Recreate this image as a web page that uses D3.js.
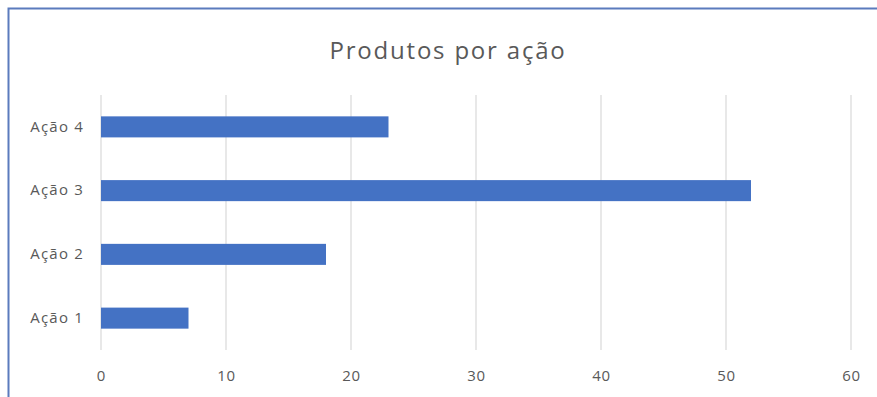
<!DOCTYPE html>
<html>
<head>
<meta charset="utf-8">
<script src="https://cdn.jsdelivr.net/npm/d3@7"></script>
<style>
  body { margin: 0; background: #fff; }
  text { font-family: "Open Sans", "Noto Sans", sans-serif; }
</style>
</head>
<body>
<div id="chart"></div>
<script>
// data
var categories = ["Ação 1", "Ação 2", "Ação 3", "Ação 4"];
var values = [7, 18, 52, 23];
var xTicks = [0, 10, 20, 30, 40, 50, 60];
var chartTitle = "Produtos por ação";

var width = 877, height = 397;
var margin = {top: 95, right: 26, bottom: 47, left: 101};

var svg = d3.select("#chart").append("svg")
    .attr("width", width)
    .attr("height", height);

// chart frame (only top/left edges visible in the crop)
svg.append("rect")
    .attr("x", 8.5).attr("y", 8.5)
    .attr("width", width + 20).attr("height", height + 20)
    .attr("fill", "#fff")
    .attr("stroke", "#5b7bbd")
    .attr("stroke-width", 2);

svg.append("text")
    .attr("x", 448)
    .attr("y", 59)
    .attr("text-anchor", "middle")
    .attr("font-size", "24px")
    .attr("letter-spacing", "1.8px")
    .attr("fill", "#595959")
    .text(chartTitle);

var x = d3.scaleLinear()
    .domain([0, 60])
    .range([margin.left, width - margin.right]);

var y = d3.scaleBand()
    .domain(categories.slice().reverse())
    .range([margin.top, height - margin.bottom])
    .paddingInner(0.67)
    .paddingOuter(0.335);

// gridlines
svg.append("g")
    .selectAll("line")
    .data(xTicks)
    .enter()
    .append("line")
    .attr("x1", d => x(d)).attr("x2", d => x(d))
    .attr("y1", margin.top).attr("y2", height - margin.bottom)
    .attr("stroke", "#d9d9d9")
    .attr("stroke-width", 1.2);

// x axis labels
var xAxis = svg.append("g")
    .attr("transform", "translate(0," + (height - margin.bottom) + ")")
    .call(d3.axisBottom(x).tickValues(xTicks).tickSize(0).tickPadding(20));
xAxis.select(".domain").remove();
xAxis.selectAll("text")
    .attr("font-size", "15px")
    .attr("letter-spacing", "0.8px")
    .attr("fill", "#595959")
    .style("font-family", "'Open Sans', sans-serif");

// y axis labels
var yAxis = svg.append("g")
    .attr("transform", "translate(" + margin.left + ",0)")
    .call(d3.axisLeft(y).tickSize(0).tickPadding(17));
yAxis.select(".domain").remove();
yAxis.selectAll("text")
    .attr("font-size", "15px")
    .attr("letter-spacing", "1.2px")
    .attr("fill", "#595959")
    .style("font-family", "'Open Sans', sans-serif");

// bars
svg.append("g")
    .selectAll("rect")
    .data(categories)
    .enter()
    .append("rect")
    .attr("x", x(0))
    .attr("y", d => y(d))
    .attr("width", (d, i) => x(values[i]) - x(0))
    .attr("height", y.bandwidth())
    .attr("fill", "#4472c4");
</script>
</body>
</html>
